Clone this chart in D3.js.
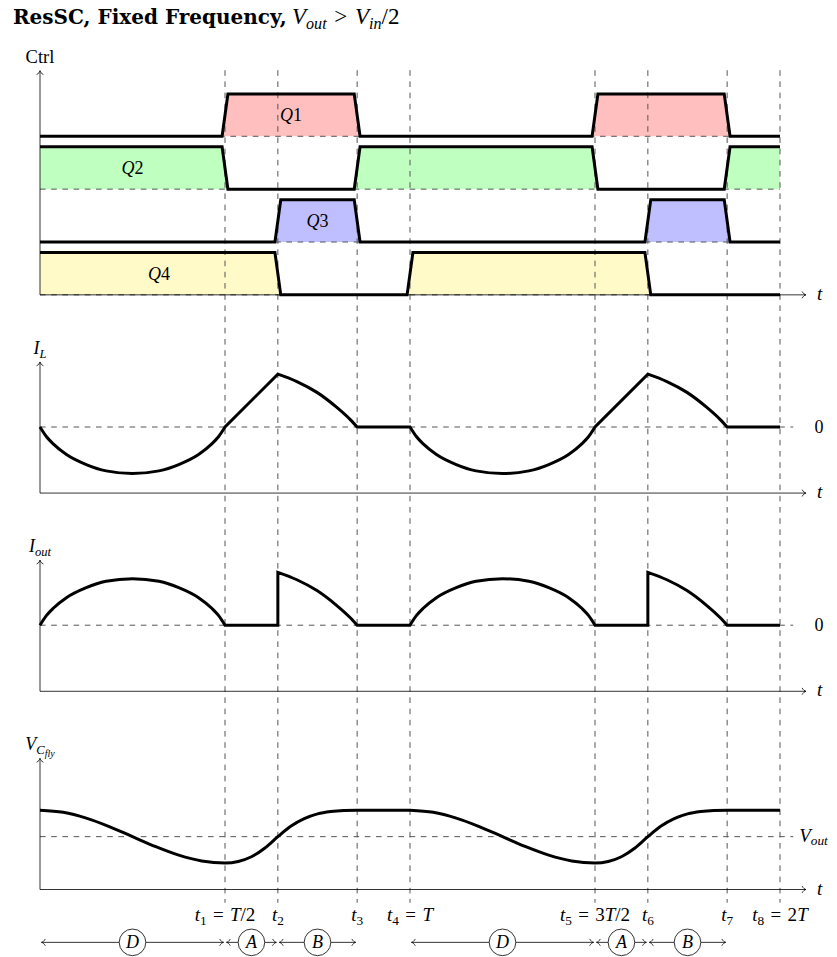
<!DOCTYPE html>
<html><head><meta charset="utf-8">
<script src="https://cdn.jsdelivr.net/npm/d3@7"></script>
<style>
html,body{margin:0;padding:0;background:#fff;}
svg{display:block;}
text{white-space:pre;}
</style></head><body>
<svg id="chart" width="837" height="957"></svg>
<script>
// ---------- data ----------
// time is measured in units where one switching period T = 7
const PERIOD = 7;
const instants = [3.5, 4.5, 6, 7, 10.5, 11.5, 13, 14];
// tick labels: [text, style]  (i = italic, r = roman, sr = roman subscript)
const instantLabels = [
  [["t","i"],["1","sr"],["\u2004=\u2004","r"],["T","i"],["/2","r"]],
  [["t","i"],["2","sr"]],
  [["t","i"],["3","sr"]],
  [["t","i"],["4","sr"],["\u2004=\u2004","r"],["T","i"]],
  [["t","i"],["5","sr"],["\u2004=\u20043","r"],["T","i"],["/2","r"]],
  [["t","i"],["6","sr"]],
  [["t","i"],["7","sr"]],
  [["t","i"],["8","sr"],["\u2004=\u20042","r"],["T","i"]]
];

// gate drive signals: intervals where each switch is on
const gateNames = ["Q1", "Q2", "Q3", "Q4"];
const gateColors = ["#ffbfbf", "#bfffbf", "#bfbfff", "#fffac8"];
const q1High = [[3.5, 6], [10.5, 13]];
const q2High = [[0, 3.5], [6, 10.5], [13, 14]];
const q3High = [[4.5, 6], [11.5, 13]];
const q4High = [[0, 4.5], [7, 11.5]];

// inductor current over one period, piece by piece
const iLPhaseD = [[0,0],[0.12,-0.18],[0.25,-0.32],[0.5,-0.52],[0.875,-0.71],[1.25,-0.83],[1.75,-0.88],
                  [2.25,-0.83],[2.625,-0.71],[3.0,-0.52],[3.25,-0.32],[3.38,-0.18],[3.5,0]];
const iLPhaseA = [[3.5,0],[4.5,1.0]];
const iLPhaseB = [[4.5,1.0],[4.86,0.86],[5.24,0.655],[5.61,0.375],[5.87,0.14],[6,0]];
const iLIdle   = [[6,0],[7,0]];

// output current over one period
const iOutPhaseD = [[0,0],[0.12,0.18],[0.25,0.32],[0.5,0.52],[0.875,0.71],[1.25,0.83],[1.75,0.88],
                    [2.25,0.83],[2.625,0.71],[3.0,0.52],[3.25,0.32],[3.38,0.18],[3.5,0]];
const iOutPhaseA = [[3.5,0],[4.5,0]];
const iOutPhaseB = [[4.5,1.0],[4.86,0.86],[5.24,0.655],[5.61,0.375],[5.87,0.14],[6,0]];
const iOutIdle   = [[6,0],[7,0]];

// flying capacitor voltage over one period (V_out = 1)
const vCfly = [[0,1.5],[0.44,1.46],[0.875,1.35],[1.31,1.19],[1.75,1.0],[2.19,0.81],
               [2.625,0.65],[3.06,0.54],[3.5,0.5],[3.75,0.53],[4.0,0.62],[4.25,0.78],
               [4.5,1.0],[4.75,1.2],[5.0,1.34],[5.25,1.43],[5.5,1.475],[5.75,1.495],
               [6.0,1.5],[7.0,1.5]];
const vOutLevel = 1.0;

// operating phases shown under the time axis
const phaseNames  = ["D", "A", "B", "D", "A", "B"];
const phaseStarts = [0, 3.5, 4.5, 7, 10.5, 11.5];
const phaseEnds   = [3.5, 4.5, 6, 10.5, 11.5, 13];

// ---------- drawing ----------
const SERIF = "'Liberation Serif', 'Times New Roman', serif";
const svg = d3.select("#chart");
const x = d3.scaleLinear().domain([0, 14]).range([40, 780]);
const UNIT = (780 - 40) / 14;
const yU = d3.scaleLinear().domain([0, 1]).range([889.5, 889.5 - UNIT]);

const BASE_CTRL = 11.25, BASE_IL = 7.5, BASE_IOUT = 3.75, BASE_V = 0;
const ZERO_OFF = 1.25;
const ROW_H = 0.8, RAMP = 0.055;
const gateHigh = [q1High, q2High, q3High, q4High];
const rowBase = i => BASE_CTRL + (3 - i);

function mathText(sel, px, py, parts, opts = {}) {
  const size = opts.size || 18;
  const t = sel.append("text")
    .attr("x", px).attr("y", py)
    .attr("text-anchor", opts.anchor || "middle")
    .style("font-family", SERIF)
    .style("font-size", size + "px")
    .attr("fill", "#000");
  let cur = 0;
  parts.forEach(([str, kind]) => {
    const lvl = kind.startsWith("ss") ? 2 : kind.startsWith("s") ? 1 : 0;
    const off = [0, 0.2 * size, 0.34 * size][lvl];
    const fs = [1, 0.7, 0.55][lvl] * size;
    const ts = t.append("tspan")
      .attr("dy", (off - cur).toFixed(2))
      .style("font-size", fs + "px")
      .style("font-style", kind.endsWith("i") ? "italic" : "normal")
      .text(str);
    if (kind === "b") ts.style("font-weight", "bold").style("font-family", opts.boldFamily || SERIF);
    cur = off;
  });
  return t;
}

function arrowTip(g, px, py, angle) {
  g.append("path")
    .attr("d", "M-3.8,-3.4 C-2.6,-1.2 -1.2,-0.3 0,0 C-1.2,0.3 -2.6,1.2 -3.8,3.4")
    .attr("transform", `translate(${px},${py}) rotate(${angle})`)
    .attr("fill", "none").attr("stroke", "#000").attr("stroke-width", 0.8);
}

const gFill = svg.append("g");
const gGrid = svg.append("g");
const gAxes = svg.append("g");
const gSig = svg.append("g");
const gText = svg.append("g");

// title
mathText(gText, 13, 24, [["ResSC, Fixed Frequency,", "b"]],
  { anchor: "start", size: 20, boldFamily: "'DejaVu Serif', serif" });
mathText(gText, 292, 24, [
  ["V", "i"], ["out", "si"], ["\u2004>\u2004", "r"], ["V", "i"], ["in", "si"], ["/2", "r"]
], { anchor: "start", size: 23 });

// ----- gate signals -----
gateHigh.forEach((high, i) => {
  const base = rowBase(i);
  const yLvl = lv => yU(base + lv * ROW_H);
  const lineGen = d3.line().x(d => x(d[0])).y(d => yLvl(d[1]));
  // filled on-intervals
  high.forEach(([a, b]) => {
    const a0 = a === 0 ? a : a - RAMP, a1 = a === 0 ? a : a + RAMP;
    const b0 = b === 14 ? b : b - RAMP, b1 = b === 14 ? b : b + RAMP;
    gFill.append("path")
      .attr("d", lineGen([[a0, 0], [a1, 1], [b0, 1], [b1, 0]]) + "Z")
      .attr("fill", gateColors[i]);
  });
  // dashed reference level of the row
  gGrid.append("line")
    .attr("x1", x(0)).attr("x2", x(14))
    .attr("y1", yLvl(0)).attr("y2", yLvl(0))
    .attr("stroke", "#555").attr("stroke-width", 1).attr("stroke-dasharray", "5.6 5.6");
  // signal trace
  const pts = [];
  if (!high.some(([a]) => a === 0)) pts.push([0, 0]);
  high.forEach(([a, b]) => {
    if (a === 0) pts.push([0, 1]); else pts.push([a - RAMP, 0], [a + RAMP, 1]);
    if (b === 14) pts.push([14, 1]); else pts.push([b - RAMP, 1], [b + RAMP, 0]);
  });
  if (pts[pts.length - 1][0] < 14) pts.push([14, 0]);
  gSig.append("path").attr("d", lineGen(pts))
    .attr("fill", "none").attr("stroke", "#000").attr("stroke-width", 3);
  // name in the first on-interval
  const [fa, fb] = high[0];
  mathText(gText, x((fa + fb) / 2), yLvl(0.5) + 6,
    [[gateNames[i][0], "i"], [gateNames[i].slice(1), "r"]], { size: 18 });
});

// ----- dashed reference levels of the analog panels -----
[BASE_IL + ZERO_OFF, BASE_IOUT + ZERO_OFF, BASE_V + vOutLevel].forEach(lvl => {
  gGrid.append("line")
    .attr("x1", x(0)).attr("x2", x(14.25))
    .attr("y1", yU(lvl)).attr("y2", yU(lvl))
    .attr("stroke", "#555").attr("stroke-width", 1).attr("stroke-dasharray", "5.6 5.6");
});

// ----- vertical time markers -----
instants.forEach(t => {
  gGrid.append("line")
    .attr("x1", x(t)).attr("x2", x(t))
    .attr("y1", yU(15.5)).attr("y2", yU(-0.25))
    .attr("stroke", "#555").attr("stroke-width", 1).attr("stroke-dasharray", "5.6 5.6");
});

// ----- axes -----
const panels = [
  { base: BASE_CTRL, top: 4.24, label: [["Ctrl", "r"]], size: 18.5 },
  { base: BASE_IL, top: 2.48, label: [["I", "i"], ["L", "si"]], size: 18 },
  { base: BASE_IOUT, top: 2.48, label: [["I", "i"], ["out", "si"]], size: 18 },
  { base: BASE_V, top: 2.48, label: [["V", "i"], ["C", "si"], ["fly", "ssi"]], size: 18 }
];
panels.forEach(p => {
  const y0 = yU(p.base), yTop = yU(p.base + p.top);
  gAxes.append("line").attr("x1", x(0)).attr("x2", x(0)).attr("y1", y0).attr("y2", yTop)
    .attr("stroke", "#000").attr("stroke-width", 0.8);
  arrowTip(gAxes, x(0), yTop, -90);
  gAxes.append("line").attr("x1", x(0)).attr("x2", x(14.49)).attr("y1", y0).attr("y2", y0)
    .attr("stroke", "#000").attr("stroke-width", 0.8);
  arrowTip(gAxes, x(14.49), y0, 0);
  mathText(gText, x(14.49) + 11, y0 + 5, [["t", "i"]], { anchor: "start", size: 19 });
  mathText(gText, x(0), yTop - 8, p.label, { size: p.size });
});

// right-hand level labels
mathText(gText, x(14.49) + 13, yU(BASE_IL + ZERO_OFF) + 6, [["0", "r"]], { size: 18 });
mathText(gText, x(14.49) + 13, yU(BASE_IOUT + ZERO_OFF) + 6, [["0", "r"]], { size: 18 });
mathText(gText, x(14.25) + 6, yU(BASE_V + vOutLevel) + 5, [["V", "i"], ["out", "si"]],
  { anchor: "start", size: 19 });

// ----- analog waveforms -----
function waveformPath(segments, yFn) {
  const gen = d3.line().x(d => x(d[0])).y(d => yFn(d[1])).curve(d3.curveMonotoneX);
  let d = "";
  [0, PERIOD].forEach(off => segments.forEach(seg => {
    const s = gen(seg.map(([t, v]) => [t + off, v]));
    d += d ? "L" + s.slice(1) : s;
  }));
  return d;
}
const traces = [
  { segs: [iLPhaseD, iLPhaseA, iLPhaseB, iLIdle], y: v => yU(BASE_IL + ZERO_OFF + v) },
  { segs: [iOutPhaseD, iOutPhaseA, iOutPhaseB, iOutIdle], y: v => yU(BASE_IOUT + ZERO_OFF + v) },
  { segs: [vCfly], y: v => yU(BASE_V + v) }
];
traces.forEach(tr => {
  gSig.append("path").attr("d", waveformPath(tr.segs, tr.y))
    .attr("fill", "none").attr("stroke", "#000").attr("stroke-width", 3)
    .attr("stroke-linejoin", "miter");
});

// ----- time labels -----
instants.forEach((t, i) => {
  mathText(gText, x(t), yU(-0.6), instantLabels[i], { size: 19 });
});

// ----- phase arrows -----
const yPh = yU(-1.0), R = 13.3, INSET = 1.5;
phaseNames.forEach((name, i) => {
  const a = x(phaseStarts[i]) + INSET, b = x(phaseEnds[i]) - INSET;
  const c = (x(phaseStarts[i]) + x(phaseEnds[i])) / 2;
  gAxes.append("line").attr("x1", a).attr("x2", c - R).attr("y1", yPh).attr("y2", yPh)
    .attr("stroke", "#000").attr("stroke-width", 0.8);
  gAxes.append("line").attr("x1", c + R).attr("x2", b).attr("y1", yPh).attr("y2", yPh)
    .attr("stroke", "#000").attr("stroke-width", 0.8);
  arrowTip(gAxes, a, yPh, 180);
  arrowTip(gAxes, b, yPh, 0);
  gAxes.append("circle").attr("cx", c).attr("cy", yPh).attr("r", R)
    .attr("fill", "#fff").attr("stroke", "#000").attr("stroke-width", 0.8);
  mathText(gText, c, yPh + 6, [[name, "i"]], { size: 18 });
});
</script>
</body></html>
